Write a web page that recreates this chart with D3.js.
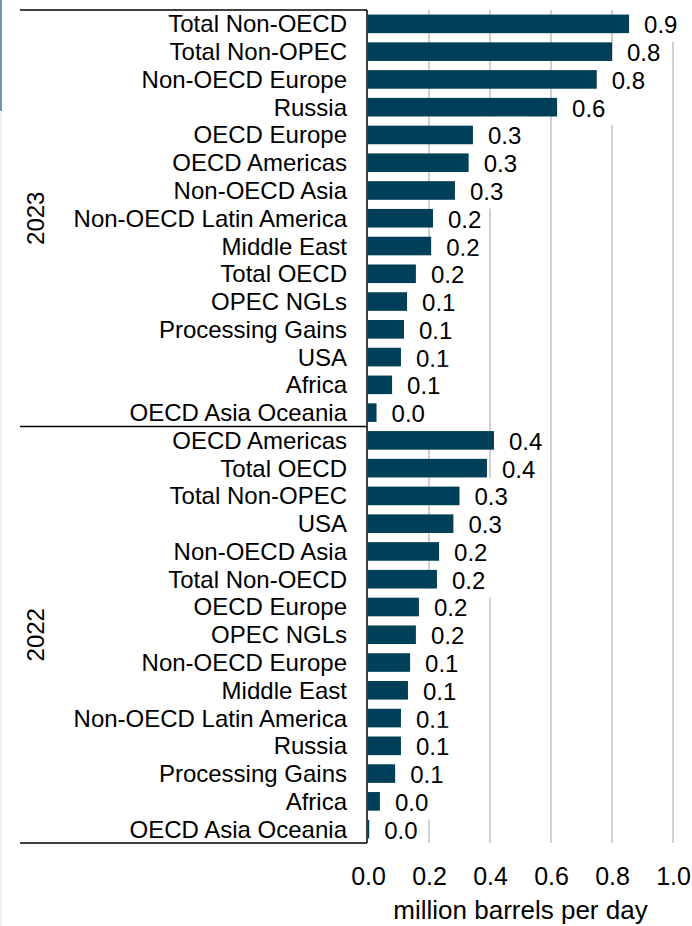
<!DOCTYPE html>
<html>
<head>
<meta charset="utf-8">
<script src="https://cdnjs.cloudflare.com/ajax/libs/d3/7.8.5/d3.min.js"></script>
<style>
    body { margin: 0; background: #fff; }
    svg { display: block; font-family: "Liberation Sans", Arial, sans-serif; }
</style>
</head>
<body>
<svg id="vis_svg"></svg>
<script>
// Data
const years = ['2023', '2022'];

const categories2023 = ['Total Non-OECD', 'Total Non-OPEC', 'Non-OECD Europe', 'Russia', 'OECD Europe',
    'OECD Americas', 'Non-OECD Asia', 'Non-OECD Latin America', 'Middle East', 'Total OECD',
    'OPEC NGLs', 'Processing Gains', 'USA', 'Africa', 'OECD Asia Oceania'];
const values2023 = [0.856, 0.80, 0.75, 0.62, 0.344, 0.33, 0.285, 0.213, 0.207, 0.157,
    0.128, 0.118, 0.108, 0.079, 0.028];

const categories2022 = ['OECD Americas', 'Total OECD', 'Total Non-OPEC', 'USA', 'Non-OECD Asia',
    'Total Non-OECD', 'OECD Europe', 'OPEC NGLs', 'Non-OECD Europe', 'Middle East',
    'Non-OECD Latin America', 'Russia', 'Processing Gains', 'Africa', 'OECD Asia Oceania'];
const values2022 = [0.413, 0.39, 0.30, 0.28, 0.233, 0.226, 0.167, 0.157, 0.138, 0.131,
    0.108, 0.108, 0.089, 0.039, 0.004];

const xTicks = [0, 0.2, 0.4, 0.6, 0.8, 1.0];
const xTitle = 'million barrels per day';

// Global Variables
let scales = {};
let config = {
    'svg': {},
    'plot': {}
};
let svg;

/**
 * Set up the visualization
 */
function visSetup() {
    config.svg.width = 692;
    config.svg.height = 926;

    config.plot.left = 368;        // x of value 0
    config.plot.right = 673;       // x of value 1.0
    config.plot.top = 10;
    config.plot.bottom = 843;
    config.plot.frameLeft = 20;    // where the group lines start

    config.barColor = '#003f58';
    config.gridColor = '#d0d0d0';
    config.labelSize = 24;

    svg = d3.select('#vis_svg')
        .attr('width', config.svg.width)
        .attr('height', config.svg.height);
}

/**
 * Draw the visualization
 */
function visDraw() {
    // flat rows, one per bar
    let rows = [];
    categories2023.forEach((c, i) => rows.push({ year: years[0], name: c, value: values2023[i] }));
    categories2022.forEach((c, i) => rows.push({ year: years[1], name: c, value: values2022[i] }));
    rows.forEach((d, i) => d.key = i);

    scales.x = d3.scaleLinear()
        .domain([0, 1])
        .range([config.plot.left, config.plot.right]);

    scales.y = d3.scaleBand()
        .domain(rows.map(d => d.key))
        .range([config.plot.top, config.plot.bottom])
        .paddingInner(0.33)
        .paddingOuter(0.165);

    // screenshot edge
    svg.append('line')
        .attr('x1', 1).attr('x2', 1).attr('y1', 0).attr('y2', 111)
        .style('stroke', '#6d97ab').style('stroke-width', 2);
    svg.append('line')
        .attr('x1', 1).attr('x2', 1).attr('y1', 113).attr('y2', 926)
        .style('stroke', '#eef0f1').style('stroke-width', 2);

    // gridlines
    svg.append('g')
        .selectAll('line')
        .data(xTicks.filter(t => t > 0))
        .join('line')
        .attr('x1', d => scales.x(d))
        .attr('x2', d => scales.x(d))
        .attr('y1', config.plot.top)
        .attr('y2', config.plot.bottom)
        .style('stroke', config.gridColor)
        .style('stroke-width', 2);

    // bars
    svg.append('g')
        .selectAll('rect')
        .data(rows)
        .join('rect')
        .attr('x', scales.x(0))
        .attr('y', d => scales.y(d.key))
        .attr('width', d => scales.x(d.value) - scales.x(0))
        .attr('height', scales.y.bandwidth())
        .style('fill', config.barColor);

    // value labels with white boxes (they hide the gridlines)
    let valG = svg.append('g')
        .selectAll('g')
        .data(rows)
        .join('g')
        .attr('transform', d => translate(scales.x(d.value) + 15, scales.y(d.key) + scales.y.bandwidth() / 2));
    valG.append('rect')
        .attr('x', -7)
        .attr('y', -18)
        .attr('width', 48)
        .attr('height', 36)
        .style('fill', '#fff');
    valG.append('text')
        .attr('y', 1)
        .attr('dominant-baseline', 'central')
        .style('font-size', config.labelSize + 'px')
        .style('fill', '#000')
        .text(d => d3.format('.1f')(d.value));

    // category labels
    svg.append('g')
        .selectAll('text')
        .data(rows)
        .join('text')
        .attr('x', 347)
        .attr('y', d => scales.y(d.key) + scales.y.bandwidth() / 2)
        .attr('text-anchor', 'end')
        .attr('dominant-baseline', 'central')
        .style('font-size', config.labelSize + 'px')
        .style('fill', '#000')
        .text(d => d.name);

    // group frame lines
    let step = scales.y.step();
    let groupEdges = [config.plot.top, config.plot.top + step * categories2023.length, config.plot.bottom];
    svg.append('g')
        .selectAll('line')
        .data(groupEdges)
        .join('line')
        .attr('x1', config.plot.frameLeft)
        .attr('x2', scales.x(0) - 1)
        .attr('y1', d => d)
        .attr('y2', d => d)
        .style('stroke', '#000')
        .style('stroke-width', 1.5);

    // year labels
    svg.append('g')
        .selectAll('text')
        .data(years)
        .join('text')
        .attr('transform', (d, i) => translate(35, (groupEdges[i] + groupEdges[i + 1]) / 2) + ' rotate(-90)')
        .attr('text-anchor', 'middle')
        .attr('dominant-baseline', 'central')
        .style('font-size', config.labelSize + 'px')
        .text(d => d);

    // y axis line
    svg.append('line')
        .attr('x1', scales.x(0) - 1)
        .attr('x2', scales.x(0) - 1)
        .attr('y1', config.plot.top)
        .attr('y2', config.plot.bottom)
        .style('stroke', '#000')
        .style('stroke-width', 1.5);

    // x axis (labels only)
    let xAxis = svg.append('g')
        .attr('transform', translate(0, 866))
        .call(d3.axisBottom(scales.x).tickValues(xTicks).tickFormat(d3.format('.1f')).tickSize(0).tickPadding(0));
    xAxis.select('.domain').remove();
    xAxis.selectAll('text')
        .attr('dy', null)
        .attr('dominant-baseline', 'central')
        .attr('y', 10)
        .style('font-family', '"Liberation Sans", Arial, sans-serif')
        .style('font-size', '25px')
        .style('fill', '#000');

    svg.append('text')
        .attr('x', (config.plot.left + config.plot.right) / 2)
        .attr('y', 910)
        .attr('text-anchor', 'middle')
        .attr('dominant-baseline', 'central')
        .style('font-size', '26px')
        .text(xTitle);
}

// Helper functions
function translate(x, y) {
    return 'translate(' + x + ',' + y + ')';
}

visSetup();
visDraw();
</script>
</body>
</html>
